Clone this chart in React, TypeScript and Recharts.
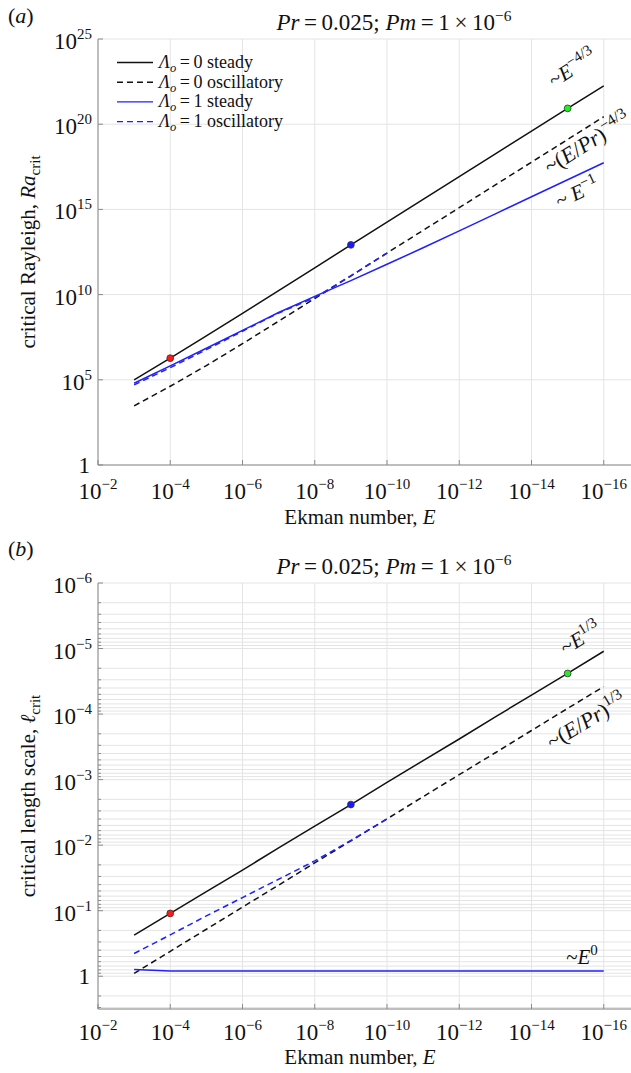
import React from 'react';
import { ComposedChart, Line, Scatter, XAxis, YAxis, CartesianGrid, Legend } from 'recharts';

// ---------- data ----------
const ekman = [1e-3, 1e-4, 1e-5, 1e-6, 1e-7, 1e-8, 1e-9, 1e-10, 1e-11, 1e-12, 1e-13, 1e-14, 1e-15, 1e-16];

// critical Rayleigh number
const raSteady0 = [1.0e5, 1.86e6, 3.8e7, 7.9e8, 1.7e10, 3.7e11, 8.3e12, 1.8e14, 3.9e15, 8.3e16, 1.8e18, 3.9e19, 8.5e20, 1.8e22];
const raOsc0 = [2.95e3, 4.2e4, 6.8e5, 1.32e7, 2.75e8, 5.9e9, 1.26e11, 2.75e12, 5.9e13, 1.26e15, 2.75e16, 5.9e17, 1.26e19, 2.75e20];
const raSteady1 = [6.3e4, 6.5e5, 7.1e6, 7.9e7, 8.9e8, 7.9e9, 6.6e10, 6.0e11, 5.6e12, 5.5e13, 5.5e14, 5.5e15, 5.5e16, 5.5e17];
const raOsc1 = [5.0e4, 5.2e5, 5.9e6, 7.1e7, 8.3e8, 6.6e9, 1.26e11, 2.75e12, null, null, null, null, null, null];

// critical length scale
const lSteady0 = [0.236, 0.110, 0.0513, 0.024, 0.011, 5.13e-3, 2.4e-3, 1.1e-3, 5.13e-4, 2.4e-4, 1.1e-4, 5.13e-5, 2.4e-5, 1.1e-5];
const lOsc0 = [0.906, 0.417, 0.192, 0.0883, 0.0407, 0.0186, 8.6e-3, 3.98e-3, 1.82e-3, 8.4e-4, 3.89e-4, 1.78e-4, 8.2e-5, 3.8e-5];
const lSteady1 = [0.79, 0.83, 0.83, 0.83, 0.83, 0.83, 0.83, 0.83, 0.83, 0.83, 0.83, 0.83, 0.83, 0.83];
const lOsc1 = [0.45, 0.234, 0.12, 0.0631, 0.0331, 0.0174, 8.5e-3, 3.98e-3, null, null, null, null, null, null];

// highlighted points on the Λo = 0 steady branch
const markerE = [1e-4, 1e-9, 1e-15];
const markerColors = ['#ff1a1a', '#1a1aff', '#22ee22'];
const raMarkers = [1.86e6, 8.3e12, 8.5e20];
const lMarkers = [0.11, 2.4e-3, 2.4e-5];

// ticks
const xTicks = [1e-2, 1e-4, 1e-6, 1e-8, 1e-10, 1e-12, 1e-14, 1e-16];
const raTicks = [1, 1e5, 1e10, 1e15, 1e20, 1e25];
const lMajorTicks = [1e-6, 1e-5, 1e-4, 1e-3, 1e-2, 1e-1, 1];
const lMinorTicks = [
  ...lMajorTicks.flatMap((m) => [2, 3, 4, 5, 6, 7, 8, 9].map((k) => k * m)).filter((v) => v < 1),
  2, 3,
];
const lAllTicks = [...lMajorTicks, ...lMinorTicks].sort((a, b) => a - b);

const legendItems = [
  { lambda: '0', mode: 'steady', color: '#111111', dash: undefined as string | undefined },
  { lambda: '0', mode: 'oscillatory', color: '#111111', dash: '6 4' },
  { lambda: '1', mode: 'steady', color: '#1f1fff', dash: undefined },
  { lambda: '1', mode: 'oscillatory', color: '#1f1fff', dash: '6 4' },
];

// ---------- styles ----------
const FONT = '"Liberation Serif", "Times New Roman", "DejaVu Serif", serif';
const AXIS = '#8a8a8a';
const GRID = '#e4e4e4';
const TXT = '#111111';
const W = 700;
const H = 540;
const MARGIN = { top: 39, right: 24, left: 0, bottom: 0 };

const raData = ekman.map((E, i) => ({ E, s0: raSteady0[i], o0: raOsc0[i], s1: raSteady1[i], o1: raOsc1[i] }));
const lData = ekman.map((E, i) => ({ E, s0: lSteady0[i], o0: lOsc0[i], s1: lSteady1[i], o1: lOsc1[i] }));
const raMarkerData = markerE.map((E, i) => ({ E, v: raMarkers[i], fill: markerColors[i] }));
const lMarkerData = markerE.map((E, i) => ({ E, v: lMarkers[i], fill: markerColors[i] }));

const supText = (n: number) => (n < 0 ? '\u2212' + -n : String(n));

const makeXTick = (dy: number) => (p: any) => {
  const n = Math.round(Math.log10(p.payload.value));
  return (
    <g>
      <line x1={p.x} x2={p.x} y1={p.y} y2={p.y - 5} stroke={AXIS} />
      <text x={p.x} y={p.y + dy} textAnchor="middle" fontFamily={FONT} fontSize={23} fill={TXT}>
        10<tspan dy={-10} fontSize={15}>{supText(n)}</tspan>
      </text>
    </g>
  );
};

const topTick = (p: any) => <line x1={p.x} x2={p.x} y1={p.y} y2={p.y + 5} stroke={AXIS} />;

const makeYTick = (majors: number[]) => (p: any) => {
  const v = p.payload.value;
  const isMajor = majors.some((m) => Math.abs(v / m - 1) < 1e-6);
  const n = Math.round(Math.log10(v));
  return (
    <g>
      <line x1={p.x} x2={p.x + (isMajor ? 5 : 3)} y1={p.y} y2={p.y} stroke={AXIS} />
      {isMajor &&
        (n === 0 ? (
          <text x={p.x - 8} y={p.y + 8} textAnchor="end" fontFamily={FONT} fontSize={23} fill={TXT}>
            1
          </text>
        ) : (
          <text x={p.x - 6} y={p.y + 10} textAnchor="end" fontFamily={FONT} fontSize={23} fill={TXT}>
            10<tspan dy={-10} fontSize={15}>{supText(n)}</tspan>
          </text>
        ))}
    </g>
  );
};

const markerShape = (p: any) => (
  <circle cx={p.cx} cy={p.cy} r={3.4} fill={p.payload.fill} stroke="#333" strokeWidth={0.8} />
);

const renderLegend = () => (
  <svg width={270} height={82} style={{ display: 'block' }}>
    {legendItems.map((it, i) => {
      const cy = 10.5 + i * 19.7;
      return (
        <g key={i}>
          <line x1={2} x2={38} y1={cy} y2={cy} stroke={it.color} strokeWidth={1.4} strokeDasharray={it.dash} />
          <text x={44} y={cy + 5.5} fontFamily={FONT} fontSize={18} fill={TXT}>
            <tspan fontStyle="italic">{'\u039B'}</tspan>
            <tspan fontStyle="italic" fontSize={12.5} dy={4}>o</tspan>
            <tspan dy={-4}>{'\u2009=\u2009' + it.lambda + ' ' + it.mode}</tspan>
          </text>
        </g>
      );
    })}
  </svg>
);

const series = (data: any[]) =>
  [
    { key: 's0', color: '#111111', dash: undefined, name: 'Λo = 0 steady' },
    { key: 'o0', color: '#111111', dash: '6 4', name: 'Λo = 0 oscillatory' },
    { key: 's1', color: '#1f1fff', dash: undefined, name: 'Λo = 1 steady' },
    { key: 'o1', color: '#1f1fff', dash: '6 4', name: 'Λo = 1 oscillatory' },
  ].map((s) => (
    <Line
      key={s.key}
      data={data}
      dataKey={s.key}
      name={s.name}
      type="linear"
      stroke={s.color}
      strokeWidth={1.5}
      strokeDasharray={s.dash}
      dot={false}
      activeDot={false}
      isAnimationActive={false}
    />
  ));

function Panel({
  data,
  markers,
  yDomain,
  yTicks,
  yMajors,
  reversedY,
  xTickDy,
  legend,
}: {
  data: any[];
  markers: any[];
  yDomain: [number, number];
  yTicks: number[];
  yMajors: number[];
  reversedY: boolean;
  xTickDy: number;
  legend: boolean;
}) {
  return (
    <ComposedChart width={W} height={H} margin={MARGIN} data={data}>
      <CartesianGrid stroke={GRID} strokeWidth={1} />
      <XAxis
        dataKey="E"
        type="number"
        scale="log"
        domain={[1e-18, 1e-2]}
        reversed
        allowDataOverflow
        ticks={xTicks}
        interval={0}
        height={75}
        tickSize={0}
        tickMargin={0}
        tickLine={false}
        axisLine={{ stroke: AXIS }}
        tick={makeXTick(xTickDy)}
      />
      <XAxis
        xAxisId="top"
        orientation="top"
        dataKey="E"
        type="number"
        scale="log"
        domain={[1e-18, 1e-2]}
        reversed
        allowDataOverflow
        ticks={xTicks}
        interval={0}
        height={0}
        tickSize={0}
        tickMargin={0}
        tickLine={false}
        axisLine={{ stroke: AXIS }}
        tick={topTick}
      />
      <YAxis
        type="number"
        scale="log"
        domain={yDomain}
        reversed={reversedY}
        allowDataOverflow
        ticks={yTicks}
        interval={0}
        width={98}
        tickSize={0}
        tickMargin={0}
        tickLine={false}
        axisLine={{ stroke: AXIS }}
        tick={makeYTick(yMajors)}
      />
      {series(data)}
      <Scatter data={markers} dataKey="v" shape={markerShape} legendType="none" isAnimationActive={false} />
      {legend && (
        <Legend
          layout="vertical"
          align="center"
          verticalAlign="middle"
          wrapperStyle={{ left: 115, top: 52, width: 270, height: 82 }}
          content={renderLegend}
        />
      )}
    </ComposedChart>
  );
}

const T = { fontFamily: FONT, fill: TXT };

export default function App() {
  return (
    <div style={{ position: 'absolute', left: 0, top: 0, width: 631, height: 1073, overflow: 'hidden', background: '#fff' }}>
      <div style={{ position: 'absolute', left: 0, top: 0 }}>
        <Panel
          data={raData}
          markers={raMarkerData}
          yDomain={[1, 1e25]}
          yTicks={raTicks}
          yMajors={raTicks}
          reversedY={false}
          xTickDy={34}
          legend
        />
      </div>
      <div style={{ position: 'absolute', left: 0, top: 544 }}>
        <Panel
          data={lData}
          markers={lMarkerData}
          yDomain={[1e-6, 3.1623]}
          yTicks={lAllTicks}
          yMajors={lMajorTicks}
          reversedY
          xTickDy={31}
          legend={false}
        />
      </div>
      <svg width={631} height={1073} style={{ position: 'absolute', left: 0, top: 0, pointerEvents: 'none' }}>
        {/* panel labels */}
        <text x={8} y={23} fontSize={22} {...T}>(<tspan fontStyle="italic">a</tspan>)</text>
        <text x={8} y={556} fontSize={22} {...T}>(<tspan fontStyle="italic">b</tspan>)</text>
        {/* titles */}
        {[30, 574].map((y) => (
          <text key={y} x={394} y={y} textAnchor="middle" fontSize={23} {...T}>
            <tspan fontStyle="italic">Pr</tspan>
            {'\u2009=\u20090.025; '}
            <tspan fontStyle="italic">Pm</tspan>
            {'\u2009=\u20091\u2009\u00D7\u200910'}
            <tspan dy={-9} fontSize={15.5}>{'\u22126'}</tspan>
          </text>
        ))}
        {/* x labels */}
        <text x={360} y={524} textAnchor="middle" fontSize={21} {...T}>
          Ekman number, <tspan fontStyle="italic">E</tspan>
        </text>
        <text x={360} y={1064} textAnchor="middle" fontSize={21} {...T}>
          Ekman number, <tspan fontStyle="italic">E</tspan>
        </text>
        {/* y labels */}
        <text transform="translate(35,252) rotate(-90)" textAnchor="middle" fontSize={21} {...T}>
          critical Rayleigh, <tspan fontStyle="italic">Ra</tspan>
          <tspan fontSize={15} dy={5}>crit</tspan>
        </text>
        <text transform="translate(35,796) rotate(-90)" textAnchor="middle" fontSize={21} {...T}>
          critical length scale, <tspan fontStyle="italic">{'\u2113'}</tspan>
          <tspan fontSize={15} dy={5}>crit</tspan>
        </text>
        {/* scaling annotations */}
        <text transform="translate(576,74) rotate(-32)" textAnchor="middle" fontSize={21} {...T}>
          ~<tspan fontStyle="italic">E</tspan>
          <tspan dy={-9} fontSize={15}>{'\u22124/3'}</tspan>
        </text>
        <text transform="translate(591,149) rotate(-32)" textAnchor="middle" fontSize={22} {...T}>
          ~(<tspan fontStyle="italic">E</tspan>/<tspan fontStyle="italic">Pr</tspan>)
          <tspan dy={-9} fontSize={15.5}>{'\u22124/3'}</tspan>
        </text>
        <text transform="translate(580,199) rotate(-25)" textAnchor="middle" fontSize={21} {...T}>
          ~ <tspan fontStyle="italic">E</tspan>
          <tspan dy={-9} fontSize={15}>{'\u22121'}</tspan>
        </text>
        <text transform="translate(584,644) rotate(-31)" textAnchor="middle" fontSize={21} {...T}>
          ~<tspan fontStyle="italic">E</tspan>
          <tspan dy={-9} fontSize={15}>1/3</tspan>
        </text>
        <text transform="translate(590,727) rotate(-31)" textAnchor="middle" fontSize={22} {...T}>
          ~(<tspan fontStyle="italic">E</tspan>/<tspan fontStyle="italic">Pr</tspan>)
          <tspan dy={-9} fontSize={15.5}>1/3</tspan>
        </text>
        <text x={582} y={964} textAnchor="middle" fontSize={21} {...T}>
          ~<tspan fontStyle="italic">E</tspan>
          <tspan dy={-9} fontSize={15}>0</tspan>
        </text>
      </svg>
    </div>
  );
}
